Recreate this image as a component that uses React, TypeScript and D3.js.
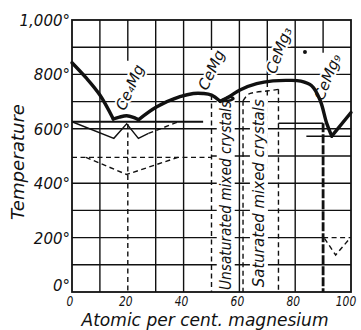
import React from "react";
import * as d3 from "d3";

// ---------- data (atomic % Mg, temperature °C) ----------
const X_TICKS = [0, 20, 40, 60, 80, 100];
const X_TICK_LABELS = ["0", "20", "40", "60", "80", "100"];
const Y_TICKS = [0, 200, 400, 600, 800, 1000];
const Y_TICK_LABELS = ["0°", "200°", "400°", "600°", "800°", "1,000°"];

const GRID_X_FULL = [10, 30, 40, 60, 80];
// [x, tFrom, tTo]
const GRID_X_PART = [
  [20, 850, 1000],
  [50, 890, 1000],
  [70, 772, 1000],
  [90, 880, 1000],
];
const GRID_Y_FULL = [100, 300, 400, 600, 700, 800, 900];
// [t, xFrom, xTo]
const GRID_Y_PART = [
  [200, 0, 90],
  [500, 50, 100],
];

// liquidus, split at eutectic minima
const LIQ_A = [[0, 843], [5, 788], [10, 724], [14.8, 636]];
const LIQ_B = [[14.8, 636], [17, 643], [19.6, 648], [22, 642], [23.8, 633]];
const LIQ_C = [[23.8, 633], [30.4, 681], [38.7, 718], [43.5, 730], [47, 730], [50, 724], [53.1, 701]];
const LIQ_D = [[53.1, 701], [56.6, 720], [60.2, 743], [66.2, 766], [72, 776], [78, 778], [82, 775], [85.9, 758], [88.9, 706], [91.3, 620], [93.1, 573]];
const LIQ_E = [[93.1, 573], [100, 660]];
const LIQ_LOOP = [[53.6, 702], [55.4, 713], [57.2, 716], [57.9, 711], [56.6, 704], [54.6, 702]];

const EUTECTIC_LEFT = [[0, 626], [47, 626]];
const THIN_LEFT = [[0, 626], [15, 565], [19.6, 618], [23.8, 565], [27.4, 583]];
const THIN_LEFT_DASH = [[27.4, 583], [38.7, 628]];
const DASH_V_LEFT = [[5, 495], [19.6, 432], [38, 495]];
const DASH_H_LEFT = [[0, 495], [50, 495]];
const DASH_ARC = [[61.3, 703], [63.2, 727], [65.6, 734], [69.8, 739], [74, 745]];
const RIGHT_H1 = [[74, 620], [90, 620]];
const RIGHT_H2 = [[84, 573], [100, 573]];
const DASH_H_RIGHT = [[90, 200], [100, 200]];
const DASH_V_RIGHT = [[90.5, 197], [94.5, 136], [99, 190]];
// [x, tFrom, tTo]
const DASH_VERT = [
  [20, 618, 0],
  [50, 724, 0],
  [61.3, 703, 0],
  [70, 772, 450],
  [74, 745, 0],
];
const THICK_VERT = [[90, 620, 0]];

// compound labels (centre in data space, angle on screen, length)
const COMPOUND_X = [20.8, 50, 74.2, 91.6];
const COMPOUND_T = [752, 816, 888, 790];
const COMPOUND_TEXT = ["Ce₄Mg", "CeMg", "CeMg₃", "CeMg₉"];
const COMPOUND_ANGLE = [-66, -65, -70, -68];
const COMPOUND_LEN = [48, 44, 47, 49];

// region labels
const REGION_X = [55.1, 67.0];
const REGION_T = [355, 363];
const REGION_TEXT = ["Unsaturated mixed crystals", "Saturated mixed crystals"];
const REGION_LEN = [189, 188];

const SPECKS = [[83.5, 882]];

const W = 361;
const H = 330;
const FONT = "'DejaVu Sans', Verdana, sans-serif";
const INK = "#111";

export default function App() {
  const x = d3.scaleLinear().domain([0, 100]).range([72, 351]);
  const y = d3.scaleLinear().domain([0, 1000]).range([292, 20]);
  const straight = d3.line<number[]>().x((d) => x(d[0])).y((d) => y(d[1]));
  const curved = d3
    .line<number[]>()
    .x((d) => x(d[0]))
    .y((d) => y(d[1]))
    .curve(d3.curveCatmullRom.alpha(0.5));
  const loop = d3
    .line<number[]>()
    .x((d) => x(d[0]))
    .y((d) => y(d[1]))
    .curve(d3.curveCatmullRomClosed.alpha(0.5));
  const pix = d3.line<number[]>();

  // baseline paths for the slanted compound labels
  const compoundPaths = COMPOUND_TEXT.map((_, i) => {
    const cx = x(COMPOUND_X[i]);
    const cy = y(COMPOUND_T[i]);
    const a = (COMPOUND_ANGLE[i] * Math.PI) / 180;
    const dx = Math.cos(a);
    const dy = Math.sin(a);
    // glyph "up" direction
    const ux = dy;
    const uy = -dx;
    const bx = cx - ux * 5;
    const by = cy - uy * 5;
    const h = COMPOUND_LEN[i] / 2 + 6;
    return pix([
      [bx - dx * h, by - dy * h],
      [bx + dx * h, by + dy * h],
    ]) || "";
  });

  const dash = "5,3.5";

  return (
    <svg
      width={W}
      height={H}
      viewBox={`0 0 ${W} ${H}`}
      style={{ position: "absolute", left: 0, top: 0, background: "#fff" }}
    >
      <defs>
        {compoundPaths.map((d, i) => (
          <path key={"cp" + i} id={"cpath" + i} d={d} />
        ))}
      </defs>
      <rect x={0} y={0} width={W} height={H} fill="#fff" />
      {/* grid */}
      <g stroke={INK} strokeWidth={1.4} fill="none">
        {GRID_X_FULL.map((v) => (
          <line key={"gx" + v} x1={x(v)} x2={x(v)} y1={y(0)} y2={y(1000)} />
        ))}
        {GRID_X_PART.map(([v, a, b]) => (
          <line key={"gxp" + v} x1={x(v)} x2={x(v)} y1={y(a)} y2={y(b)} />
        ))}
        {GRID_Y_FULL.map((v) => (
          <line key={"gy" + v} x1={x(0)} x2={x(100)} y1={y(v)} y2={y(v)} />
        ))}
        {GRID_Y_PART.map(([v, a, b]) => (
          <line key={"gyp" + v} x1={x(a)} x2={x(b)} y1={y(v)} y2={y(v)} />
        ))}
      </g>
      {/* dashed phase lines */}
      <g stroke={INK} strokeWidth={1.4} fill="none" strokeDasharray={dash}>
        {DASH_VERT.map(([v, a, b]) => (
          <line key={"dv" + v} x1={x(v)} x2={x(v)} y1={y(a)} y2={y(b)} />
        ))}
        <path d={straight(DASH_V_LEFT) || ""} />
        <path d={straight(DASH_H_LEFT) || ""} />
        <path d={straight(THIN_LEFT_DASH) || ""} />
        <path d={curved(DASH_ARC) || ""} />
        <path d={straight(DASH_H_RIGHT) || ""} />
        <path d={straight(DASH_V_RIGHT) || ""} />
      </g>
      {/* region labels with white backing */}
      {REGION_TEXT.map((s, i) => (
        <g key={s} transform={`translate(${x(REGION_X[i])},${y(REGION_T[i])}) rotate(-90)`}>
          <rect x={-REGION_LEN[i] / 2 - 1} y={-9} width={REGION_LEN[i] + 2} height={18} fill="#fff" />
          <text
            x={0}
            y={0}
            textAnchor="middle"
            dominantBaseline="central"
            fontFamily={FONT}
            fontStyle="italic"
            fontSize={15.5}
            fill={INK}
            textLength={REGION_LEN[i]}
            lengthAdjust="spacingAndGlyphs"
          >
            {s}
          </text>
        </g>
      ))}
      {/* solid phase lines */}
      <g stroke={INK} fill="none">
        {THICK_VERT.map(([v, a, b]) => (
          <line key={"tv" + v} x1={x(v)} x2={x(v)} y1={y(a)} y2={y(b)} strokeWidth={2.8} strokeDasharray="9,2" />
        ))}
        <path d={straight(EUTECTIC_LEFT) || ""} strokeWidth={2} />
        <path d={straight(THIN_LEFT) || ""} strokeWidth={1.4} />
        <path d={straight(RIGHT_H1) || ""} strokeWidth={1.5} />
        <path d={straight(RIGHT_H2) || ""} strokeWidth={1.5} />
      </g>
      {/* frame */}
      <rect x={x(0)} y={y(1000)} width={x(100) - x(0)} height={y(0) - y(1000)} fill="none" stroke={INK} strokeWidth={1.8} />
      {/* compound labels, set along slanted baselines (white halo masks the grid) */}
      {COMPOUND_TEXT.map((s, i) => (
        <text
          key={"c" + i}
          fontFamily={FONT}
          fontStyle="italic"
          fontSize={15}
          fill={INK}
          stroke="#fff"
          strokeWidth={4}
          paintOrder="stroke"
          strokeLinejoin="round"
        >
          <textPath href={"#cpath" + i} startOffset="50%" textAnchor="middle">
            {s}
          </textPath>
        </text>
      ))}
      {/* liquidus */}
      <g stroke={INK} strokeWidth={3.4} fill="none" strokeLinejoin="round" strokeLinecap="round">
        <path d={curved(LIQ_A) || ""} />
        <path d={curved(LIQ_B) || ""} />
        <path d={curved(LIQ_C) || ""} />
        <path d={curved(LIQ_D) || ""} />
        <path d={curved(LIQ_E) || ""} />
        <path d={loop(LIQ_LOOP) || ""} strokeWidth={2.4} />
      </g>
      {SPECKS.map(([a, b], i) => (
        <circle key={"s" + i} cx={x(a)} cy={y(b)} r={2} fill={INK} />
      ))}
      {/* y ticks */}
      {Y_TICKS.map((v, i) => (
        <text
          key={"yt" + v}
          x={x(0) - 2}
          y={y(v) + (v === 0 ? -1 : 6)}
          textAnchor="end"
          fontFamily={FONT}
          fontStyle="italic"
          fontSize={15}
          fill={INK}
        >
          {Y_TICK_LABELS[i]}
        </text>
      ))}
      {/* x ticks */}
      {X_TICKS.map((v, i) => (
        <text
          key={"xt" + v}
          x={x(v) - (v === 100 ? 5 : 2)}
          y={y(0) + 14}
          textAnchor="middle"
          fontFamily={FONT}
          fontStyle="italic"
          fontSize={13.5}
          fill={INK}
          textLength={X_TICK_LABELS[i].length * 6.8}
          lengthAdjust="spacingAndGlyphs"
        >
          {X_TICK_LABELS[i]}
        </text>
      ))}
      {/* axis titles */}
      <text
        x={205}
        y={326}
        textAnchor="middle"
        fontFamily={FONT}
        fontStyle="italic"
        fontSize={17}
        fill={INK}
        textLength={247}
        lengthAdjust="spacingAndGlyphs"
      >
        Atomic per cent. magnesium
      </text>
      <text
        transform="translate(24,162) rotate(-90)"
        textAnchor="middle"
        fontFamily={FONT}
        fontStyle="italic"
        fontSize={18}
        fill={INK}
        textLength={116}
        lengthAdjust="spacingAndGlyphs"
      >
        Temperature
      </text>
    </svg>
  );
}
